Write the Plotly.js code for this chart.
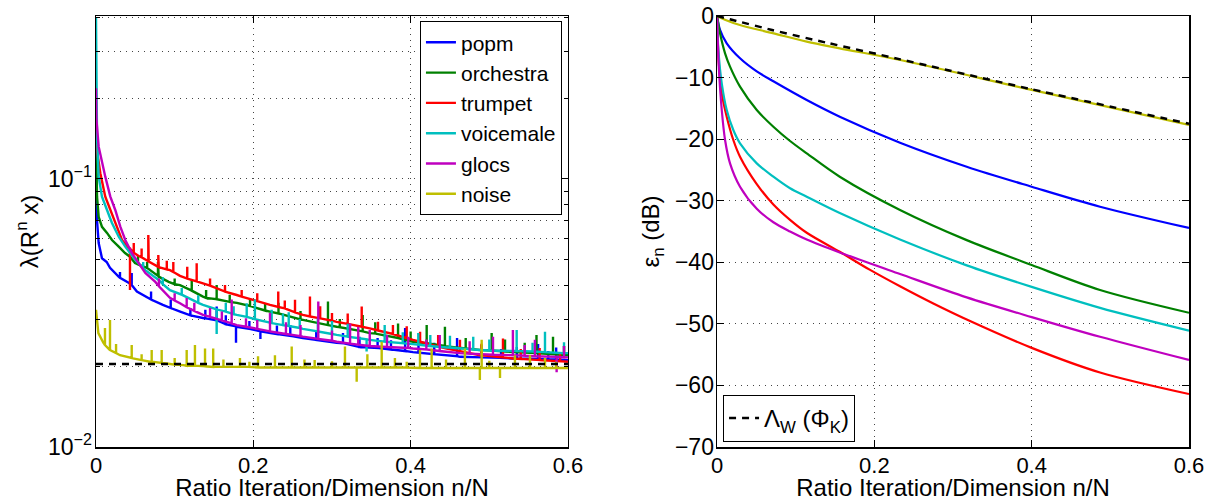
<!DOCTYPE html>
<html>
<head>
<meta charset="utf-8">
<script src="https://cdn.plot.ly/plotly-3.0.1.min.js"></script>
<style>html,body{margin:0;padding:0;background:#fff;}#chart{width:1209px;height:501px;}</style>
</head>
<body>
<div id="chart"></div>
<script>
// ---------- Left panel: λ(R^n x) (log scale) ----------
const seriesNames = ['popm', 'orchestra', 'trumpet', 'voicemale', 'glocs', 'noise'];
const seriesColors = ['#0000ff', '#008000', '#ff0000', '#00bfbf', '#bf00bf', '#bfbf00'];

const popmX = [0, 0.0013, 0.0034, 0.0076, 0.0136, 0.0178, 0.029, 0.042, 0.052, 0.064, 0.085, 0.107, 0.136, 0.179, 0.222, 0.263, 0.306, 0.336, 0.37, 0.403, 0.463, 0.53, 0.6];
const popmY = [0.105, 0.070, 0.0577, 0.0506, 0.049, 0.0466, 0.0431, 0.0409, 0.038, 0.0364, 0.0339, 0.032, 0.0303, 0.0281, 0.0266, 0.0255, 0.0245, 0.0236, 0.0232, 0.0226, 0.0217, 0.0214, 0.0211];
const popmSpikeX    = [0.0305, 0.0454, 0.139, 0.1534, 0.178, 0.209, 0.247, 0.314, 0.358, 0.393, 0.43, 0.459, 0.49, 0.515, 0.562, 0.585, 0.07, 0.095, 0.12, 0.165, 0.195, 0.23, 0.28, 0.335, 0.375, 0.41, 0.535, 0.575];
const popmSpikeBase = [0.0428, 0.0402, 0.0302, 0.0297, 0.0282, 0.0270, 0.0260, 0.0244, 0.0234, 0.0228, 0.0222, 0.0218, 0.0216, 0.0215, 0.0213, 0.0212, 0.0355, 0.033, 0.031, 0.0287, 0.0276, 0.0264, 0.0251, 0.0236, 0.0231, 0.0225, 0.0214, 0.0212];
const popmSpikePeak = [0.045, 0.0446, 0.0325, 0.0334, 0.0245, 0.0253, 0.0285, 0.0266, 0.0255, 0.0278, 0.0245, 0.0255, 0.024, 0.0232, 0.0242, 0.0235, 0.038, 0.0355, 0.033, 0.031, 0.0295, 0.0284, 0.027, 0.0258, 0.025, 0.0243, 0.0236, 0.0228];

const orchX = [0, 0.0013, 0.0034, 0.0076, 0.014, 0.0203, 0.0289, 0.0369, 0.0432, 0.0496, 0.0644, 0.0797, 0.0924, 0.1068, 0.136, 0.179, 0.221, 0.263, 0.306, 0.348, 0.403, 0.446, 0.488, 0.6];
const orchY = [0.14, 0.0859, 0.0722, 0.0663, 0.0629, 0.0592, 0.0559, 0.0529, 0.0513, 0.0486, 0.0466, 0.0432, 0.0413, 0.0402, 0.0364, 0.0345, 0.032, 0.0298, 0.0281, 0.0266, 0.0247, 0.0237, 0.023, 0.022];
const orchSpikeX    = [0.0534, 0.0788, 0.1217, 0.1534, 0.1958, 0.232, 0.2949, 0.339, 0.384, 0.4204, 0.4436, 0.47, 0.503, 0.545, 0.581, 0.065, 0.1, 0.14, 0.17, 0.215, 0.26, 0.31, 0.355, 0.4, 0.52, 0.56, 0.595];
const orchSpikeBase = [0.048, 0.0435, 0.0383, 0.0356, 0.0336, 0.0315, 0.0285, 0.0270, 0.0255, 0.0244, 0.0238, 0.0233, 0.0229, 0.0225, 0.0222, 0.0466, 0.0405, 0.036, 0.0348, 0.0323, 0.0299, 0.028, 0.0265, 0.0248, 0.0227, 0.0224, 0.022];
const orchSpikePeak = [0.052, 0.049, 0.042, 0.0402, 0.036, 0.0345, 0.0349, 0.0311, 0.0289, 0.0285, 0.0281, 0.0255, 0.0266, 0.0245, 0.0258, 0.049, 0.0425, 0.0385, 0.037, 0.0342, 0.0322, 0.030, 0.0292, 0.027, 0.0252, 0.0262, 0.0238];

const trumX = [0, 0.0055, 0.0118, 0.0182, 0.0245, 0.033, 0.0416, 0.0543, 0.067, 0.0797, 0.094, 0.1068, 0.136, 0.1789, 0.2212, 0.263, 0.306, 0.348, 0.3775, 0.403, 0.4458, 0.488, 0.53, 0.6];
const trumY = [0.135, 0.105, 0.0859, 0.0766, 0.0685, 0.0592, 0.0553, 0.0516, 0.0492, 0.0469, 0.0457, 0.0435, 0.0408, 0.0369, 0.0339, 0.0311, 0.0293, 0.0277, 0.0264, 0.0251, 0.0233, 0.022, 0.0214, 0.0208];
const trumSpikeX    = [0.0432, 0.048, 0.0665, 0.0792, 0.0983, 0.116, 0.128, 0.164, 0.1852, 0.2317, 0.253, 0.272, 0.300, 0.3378, 0.3585, 0.3775, 0.412, 0.4627, 0.5174, 0.564, 0.058, 0.09, 0.145, 0.205, 0.24, 0.285, 0.32, 0.395, 0.435, 0.49, 0.54, 0.59];
const trumSpikeBase = [0.055, 0.053, 0.0493, 0.047, 0.045, 0.0425, 0.0415, 0.038, 0.0364, 0.0333, 0.0318, 0.0307, 0.0296, 0.0281, 0.0272, 0.0264, 0.0247, 0.0228, 0.0216, 0.0211, 0.051, 0.046, 0.040, 0.035, 0.0329, 0.0302, 0.0288, 0.0255, 0.0237, 0.022, 0.0213, 0.0209];
const trumSpikePeak = [0.0385, 0.0577, 0.0618, 0.052, 0.049, 0.047, 0.0485, 0.0402, 0.0385, 0.038, 0.0354, 0.0364, 0.0316, 0.0334, 0.0293, 0.0285, 0.0269, 0.0251, 0.0254, 0.0234, 0.055, 0.0495, 0.0425, 0.0375, 0.0352, 0.0335, 0.0315, 0.0282, 0.0262, 0.0243, 0.0232, 0.0225];

const voicX = [0, 0.0006, 0.0013, 0.0034, 0.0076, 0.014, 0.0203, 0.0289, 0.0372, 0.05, 0.0627, 0.0797, 0.094, 0.1068, 0.136, 0.1789, 0.2212, 0.263, 0.306, 0.348, 0.403, 0.4458, 0.488, 0.6];
const voicY = [0.40, 0.17, 0.144, 0.102, 0.0859, 0.0766, 0.0685, 0.0609, 0.0559, 0.0499, 0.0457, 0.042, 0.0385, 0.0372, 0.0339, 0.0311, 0.0291, 0.0276, 0.0262, 0.0251, 0.0242, 0.0235, 0.023, 0.0224];
const voicSpikeX    = [0.109, 0.1534, 0.165, 0.1916, 0.202, 0.2233, 0.2377, 0.259, 0.282, 0.344, 0.367, 0.4097, 0.45, 0.4796, 0.5348, 0.5708, 0.06, 0.085, 0.13, 0.175, 0.245, 0.3, 0.32, 0.39, 0.425, 0.5, 0.555, 0.595];
const voicSpikeBase = [0.0370, 0.0326, 0.0320, 0.0306, 0.0300, 0.0290, 0.0285, 0.0278, 0.0270, 0.0252, 0.0247, 0.0241, 0.0235, 0.0231, 0.0228, 0.0226, 0.0465, 0.0405, 0.0345, 0.0313, 0.0283, 0.0264, 0.0258, 0.0244, 0.0238, 0.0229, 0.0227, 0.0224];
const voicSpikePeak = [0.0392, 0.0264, 0.0345, 0.0344, 0.0355, 0.0325, 0.0315, 0.030, 0.0302, 0.0227, 0.0285, 0.0266, 0.026, 0.0258, 0.0273, 0.0269, 0.049, 0.043, 0.0368, 0.0335, 0.0318, 0.0295, 0.0288, 0.0268, 0.0262, 0.0252, 0.0245, 0.0246];

const globX = [0, 0.0006, 0.0034, 0.0076, 0.0118, 0.0182, 0.0245, 0.0309, 0.0372, 0.0458, 0.0543, 0.0627, 0.0754, 0.094, 0.1068, 0.136, 0.1789, 0.2212, 0.263, 0.306, 0.348, 0.403, 0.4627, 0.6];
const globY = [0.218, 0.166, 0.132, 0.1145, 0.102, 0.0859, 0.0766, 0.0664, 0.0592, 0.0528, 0.0485, 0.0446, 0.0413, 0.036, 0.0344, 0.0311, 0.0285, 0.027, 0.0258, 0.0247, 0.0238, 0.0233, 0.0224, 0.0216];
const globSpikeX    = [0.1153, 0.145, 0.1725, 0.1907, 0.2212, 0.2415, 0.2826, 0.323, 0.3334, 0.348, 0.397, 0.437, 0.5047, 0.530, 0.558, 0.5856, 0.08, 0.1, 0.125, 0.16, 0.205, 0.26, 0.3, 0.37, 0.42, 0.475, 0.545, 0.595];
const globSpikeBase = [0.0332, 0.0306, 0.0289, 0.0281, 0.0270, 0.0264, 0.0253, 0.0243, 0.0241, 0.0238, 0.0234, 0.0228, 0.0221, 0.0220, 0.0218, 0.0217, 0.0398, 0.0352, 0.0322, 0.0297, 0.0276, 0.0259, 0.0249, 0.0236, 0.0231, 0.0223, 0.0219, 0.0216];
const globSpikePeak = [0.036, 0.033, 0.0355, 0.0302, 0.0316, 0.0292, 0.0349, 0.0289, 0.0281, 0.0273, 0.0258, 0.0262, 0.0258, 0.0273, 0.0251, 0.019, 0.0425, 0.0375, 0.0345, 0.032, 0.0298, 0.0285, 0.0272, 0.0262, 0.0252, 0.0248, 0.024, 0.0238];

const noiseX = [0, 0.003, 0.0093, 0.0178, 0.0305, 0.047, 0.0686, 0.09, 0.111, 0.15, 0.25, 0.35, 0.45, 0.6];
const noiseY = [0.0325, 0.0266, 0.0245, 0.0230, 0.0220, 0.0214, 0.0208, 0.0205, 0.0202, 0.0199, 0.0198, 0.0198, 0.0197, 0.0197];
const noiseSpikeX    = [0.0114, 0.0178, 0.0454, 0.0708, 0.0835, 0.1153, 0.1258, 0.1386, 0.149, 0.183, 0.206, 0.2275, 0.2488, 0.278, 0.3165, 0.3314, 0.3632, 0.38, 0.4119, 0.4267, 0.469, 0.488, 0.4903, 0.5136, 0.5326, 0.5517, 0.5708, 0.0255, 0.058, 0.1, 0.162, 0.195, 0.265, 0.3, 0.345, 0.395, 0.445, 0.5, 0.585];
const noiseSpikeBase = [0.0240, 0.0230, 0.0215, 0.0208, 0.0206, 0.0201, 0.0201, 0.0200, 0.0199, 0.0199, 0.0198, 0.0198, 0.0198, 0.0198, 0.0198, 0.0198, 0.0198, 0.0198, 0.0197, 0.0197, 0.0197, 0.0197, 0.0197, 0.0197, 0.0197, 0.0197, 0.0197, 0.0224, 0.0211, 0.0203, 0.0199, 0.0199, 0.0198, 0.0198, 0.0198, 0.0198, 0.0197, 0.0197, 0.0197];
const noiseSpikePeak = [0.0278, 0.0298, 0.024, 0.023, 0.023, 0.023, 0.024, 0.0233, 0.0233, 0.0215, 0.0218, 0.022, 0.0237, 0.0211, 0.0237, 0.0175, 0.0247, 0.0215, 0.023, 0.0233, 0.0233, 0.0178, 0.0251, 0.0181, 0.022, 0.022, 0.0215, 0.0242, 0.0222, 0.0215, 0.0212, 0.0208, 0.0212, 0.0209, 0.0222, 0.0208, 0.0212, 0.021, 0.0208];

const boundLeftX = [0, 0.6];
const boundLeftY = [0.0204, 0.0204];

// ---------- Right panel: ε_n (dB) ----------
const dbPopmX = [0, 0.0038, 0.0123, 0.0292, 0.0505, 0.0716, 0.114, 0.156, 0.2326, 0.3174, 0.4, 0.4869, 0.6];
const dbPopmY = [0, -2.27, -4.44, -6.87, -9.0, -10.6, -13.64, -16.35, -20.57, -24.47, -27.72, -30.97, -34.43];
const dbOrchX = [0, 0.0038, 0.0102, 0.0165, 0.0292, 0.0505, 0.0716, 0.0928, 0.114, 0.156, 0.2326, 0.3174, 0.4, 0.4869, 0.6];
const dbOrchY = [0, -2.8, -6.06, -8.23, -11.48, -15.27, -17.98, -20.3, -22.3, -26.1, -31.5, -36.4, -40.44, -44.5, -48.2];
const dbTrumX = [0, 0.0022, 0.006, 0.0123, 0.0207, 0.0292, 0.0505, 0.0716, 0.0928, 0.114, 0.156, 0.194, 0.2326, 0.275, 0.3174, 0.4, 0.4869, 0.6];
const dbTrumY = [0, -7.5, -12.56, -16.35, -20.14, -22.85, -27.3, -30.6, -33.1, -35.2, -38.3, -41.2, -43.9, -46.7, -49.3, -53.9, -57.9, -61.4];
const dbVoicX = [0, 0.0017, 0.006, 0.0123, 0.0207, 0.0292, 0.0505, 0.0716, 0.0928, 0.114, 0.156, 0.2326, 0.3174, 0.4, 0.4869, 0.6];
const dbVoicY = [0, -5.52, -10.93, -15.27, -18.52, -20.68, -23.93, -26.1, -27.98, -29.35, -32.0, -36.3, -40.5, -44.0, -47.4, -51.1];
const dbGlocX = [0, 0.0022, 0.006, 0.0102, 0.0165, 0.0292, 0.0505, 0.0716, 0.0928, 0.114, 0.156, 0.2326, 0.3174, 0.4, 0.4869, 0.6];
const dbGlocY = [0, -8.2, -15.27, -20.14, -23.93, -27.72, -31.3, -33.5, -35.0, -36.3, -38.4, -41.9, -45.7, -48.9, -52.1, -55.87];
const dbNoiseX = [0, 0.01, 0.029, 0.072, 0.114, 0.156, 0.233, 0.4, 0.6];
const dbNoiseY = [0, -0.6, -1.46, -2.82, -4.17, -5.25, -7.15, -12.0, -17.7];
const dbBoundX = [0, 0.02, 0.07, 0.139, 0.233, 0.4, 0.6];
const dbBoundY = [0, -0.65, -2.27, -4.33, -7.04, -11.9, -17.5];

// tick labels
const xTickVals = [0, 0.2, 0.4, 0.6];
const xTickText = ['0', '0.2', '0.4', '0.6'];
const logTickVals = [0.01, 0.1];
const logTickText = ['10<sup>\u22122</sup>', '10<sup>\u22121</sup>'];
const logMinorVals = [0.02, 0.03, 0.04, 0.05, 0.06, 0.07, 0.08, 0.09, 0.2, 0.3, 0.4];
const boundName = '\u039B<sub>W</sub> (\u03A6<sub>K</sub>)';

// merge baseline points with typed spikes (base, peak, base at the same x)
function withSpikes(bx, by, sx, sb, sp) {
  const pts = bx.map((x, i) => ({x: x, y: by[i], k: 0}));
  sx.forEach((x, i) => {
    pts.push({x: x, y: sb[i], k: 1});
    pts.push({x: x, y: sp[i], k: 2});
    pts.push({x: x, y: sb[i], k: 3});
  });
  pts.sort((a, b) => (a.x - b.x) || (a.k - b.k));
  return {x: pts.map(p => p.x), y: pts.map(p => p.y)};
}

const leftData = [
  withSpikes(popmX, popmY, popmSpikeX, popmSpikeBase, popmSpikePeak),
  withSpikes(orchX, orchY, orchSpikeX, orchSpikeBase, orchSpikePeak),
  withSpikes(trumX, trumY, trumSpikeX, trumSpikeBase, trumSpikePeak),
  withSpikes(voicX, voicY, voicSpikeX, voicSpikeBase, voicSpikePeak),
  withSpikes(globX, globY, globSpikeX, globSpikeBase, globSpikePeak),
  withSpikes(noiseX, noiseY, noiseSpikeX, noiseSpikeBase, noiseSpikePeak)
];
const rightData = [
  [dbPopmX, dbPopmY], [dbOrchX, dbOrchY], [dbTrumX, dbTrumY],
  [dbVoicX, dbVoicY], [dbGlocX, dbGlocY], [dbNoiseX, dbNoiseY]
];

const traces = [];
leftData.forEach((d, i) => {
  traces.push({x: d.x, y: d.y, type: 'scatter', mode: 'lines', name: seriesNames[i],
    line: {color: seriesColors[i], width: 2.4}, xaxis: 'x', yaxis: 'y', legend: 'legend'});
});
traces.push({x: boundLeftX, y: boundLeftY, type: 'scatter', mode: 'lines', showlegend: false,
  line: {color: '#000', width: 2.5, dash: '7px,6px'}, xaxis: 'x', yaxis: 'y'});
rightData.forEach((d, i) => {
  traces.push({x: d[0], y: d[1], type: 'scatter', mode: 'lines', name: seriesNames[i], showlegend: false,
    line: {color: seriesColors[i], width: 2.2, shape: 'spline', smoothing: 0.9}, xaxis: 'x2', yaxis: 'y2'});
});
traces.push({x: dbBoundX, y: dbBoundY, type: 'scatter', mode: 'lines', name: boundName,
  line: {color: '#000', width: 2.5, dash: '7px,6px', shape: 'spline', smoothing: 0.6}, xaxis: 'x2', yaxis: 'y2', legend: 'legend2'});

const FONT = 'Liberation Sans, Arial, Helvetica, sans-serif';
const GRID = {showgrid: true, gridcolor: '#444', gridwidth: 1, griddash: '1px,5px'};
const axisCommon = Object.assign({
  showline: true, linecolor: '#000', linewidth: 1.5, mirror: 'allticks',
  ticks: 'inside', ticklen: 7, tickcolor: '#000', tickwidth: 1,
  zeroline: false, tickfont: {family: FONT, size: 23, color: '#000'}, automargin: false
}, GRID);
const xTickFont = {family: FONT, size: 22, color: '#000'};

const layout = {
  width: 1209, height: 501,
  paper_bgcolor: '#fff', plot_bgcolor: '#fff',
  font: {family: FONT, size: 20, color: '#000'},
  margin: {l: 96, r: 20, t: 16, b: 54},
  showlegend: true,
  xaxis: Object.assign({}, axisCommon, {domain: [0, 0.4318], range: [0, 0.6], anchor: 'y',
    tickmode: 'array', tickvals: xTickVals, ticktext: xTickText, ticklabelstandoff: -2, tickfont: xTickFont,
    title: {text: 'Ratio Iteration/Dimension n/N', font: {family: FONT, size: 24}}}),
  yaxis: Object.assign({}, axisCommon, {domain: [0, 1], type: 'log', range: [-2, -0.392], anchor: 'x',
    tickmode: 'array', tickvals: logTickVals, ticktext: logTickText, ticklabelstandoff: -2,
    minor: Object.assign({tickmode: 'array', tickvals: logMinorVals, ticks: 'inside', ticklen: 4, tickcolor: '#000'}, GRID),
    title: {text: '\u03BB(R<sup>n</sup> x)', font: {family: FONT, size: 24}}}),
  xaxis2: Object.assign({}, axisCommon, {domain: [0.5682, 1], range: [0, 0.6], anchor: 'y2',
    tickmode: 'array', tickvals: xTickVals, ticktext: xTickText, ticklabelstandoff: -2, tickfont: xTickFont,
    title: {text: 'Ratio Iteration/Dimension n/N', font: {family: FONT, size: 24}}}),
  yaxis2: Object.assign({}, axisCommon, {domain: [0, 1], range: [-70, 0], anchor: 'x2',
    tickmode: 'linear', tick0: 0, dtick: 10, ticklabelstandoff: -3,
    title: {text: '\u03B5<sub>n</sub> (dB)', font: {family: FONT, size: 24}}}),
  legend: {x: 0.4263, xanchor: 'right', y: 0.988, yanchor: 'top',
    bgcolor: '#fff', bordercolor: '#000', borderwidth: 1,
    font: {family: FONT, size: 21, color: '#000'}, tracegroupgap: 0},
  legend2: {x: 0.5737, xanchor: 'left', y: 0.0116, yanchor: 'bottom',
    bgcolor: '#fff', bordercolor: '#000', borderwidth: 1,
    font: {family: FONT, size: 24, color: '#000'}}
};

Plotly.newPlot('chart', traces, layout, {displayModeBar: false, staticPlot: true});
</script>
</body>
</html>
